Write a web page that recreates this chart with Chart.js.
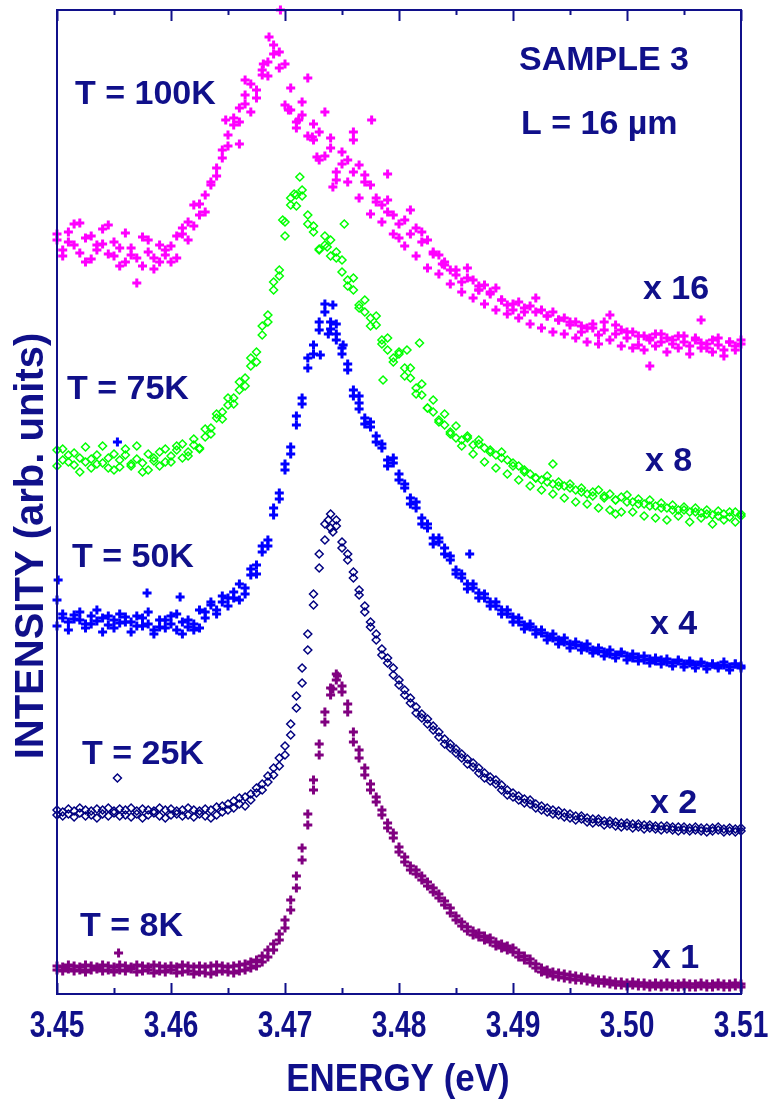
<!DOCTYPE html>
<html>
<head>
<meta charset="utf-8">
<script src="https://cdn.jsdelivr.net/npm/chart.js"></script>
<style>
  html, body { margin: 0; padding: 0; background: #fff; }
  canvas { display: block; }
</style>
</head>
<body>
<canvas id="pl" width="770" height="1101"></canvas>
<script>
// photon energy (eV), shared by all five spectra
const energies = [
  3.4500,3.4505,3.4510,3.4515,3.4520,3.4525,3.4530,3.4535,3.4540,3.4545,
  3.4550,3.4555,3.4560,3.4565,3.4570,3.4575,3.4580,3.4585,3.4590,3.4595,
  3.4600,3.4605,3.4610,3.4615,3.4620,3.4625,3.4630,3.4635,3.4640,3.4645,
  3.4650,3.4655,3.4660,3.4665,3.4670,3.4675,3.4680,3.4685,3.4690,3.4695,
  3.4700,3.4705,3.4710,3.4715,3.4720,3.4725,3.4730,3.4735,3.4740,3.4745,
  3.4750,3.4755,3.4760,3.4765,3.4770,3.4775,3.4780,3.4785,3.4790,3.4795,
  3.4800,3.4805,3.4810,3.4815,3.4820,3.4825,3.4830,3.4835,3.4840,3.4845,
  3.4850,3.4855,3.4860,3.4865,3.4870,3.4875,3.4880,3.4885,3.4890,3.4895,
  3.4900,3.4905,3.4910,3.4915,3.4920,3.4925,3.4930,3.4935,3.4940,3.4945,
  3.4950,3.4955,3.4960,3.4965,3.4970,3.4975,3.4980,3.4985,3.4990,3.4995,
  3.5000,3.5005,3.5010,3.5015,3.5020,3.5025,3.5030,3.5035,3.5040,3.5045,
  3.5050,3.5055,3.5060,3.5065,3.5070,3.5075,3.5080,3.5085,3.5090,3.5095,
  3.5100
];

// intensity (arb. units, curves offset and multiplied as in the figure)
const t8K = [
  24,23,25,23,24,22,24,25,23,24,
  22,24,23,25,22,23,24,21,23,22,
  24,21,22,23,20,22,21,20,22,23,
  22,21,23,24,26,28,32,37,44,54,
  66,84,106,134,169,204,239,272,299,314,
  302,282,252,236,219,204,192,179,166,156,
  142,132,124,120,114,108,102,96,89,81,
  74,68,63,59,57,54,52,48,46,44,
  42,37,34,31,26,22,20,18,17,16,
  15,14,14,13,12,11,11,10,9,9,
  8,9,8,8,7,8,7,8,7,7,
  8,7,7,8,7,7,8,7,7,8,
  7
];
const t8Kb = [
  28,27,29,28,27,29,28,27,29,28,
  27,29,28,27,29,28,27,29,28,27,
  28,27,29,28,27,28,27,28,29,28,
  27,28,29,30,32,34,38,44,50,60,
  74,94,118,146,180,214,250,282,306,320,
  308,290,262,244,226,210,197,184,171,161,
  147,137,128,124,118,112,106,100,93,86,
  78,72,67,63,61,58,56,52,50,48,
  46,41,38,35,30,26,24,22,21,20,
  19,18,17,16,15,14,14,13,12,12,
  11,12,11,11,10,11,10,11,10,10,
  11,10,10,11,10,10,11,10,10,11,
  10
];
const t25K = [
  179,178,180,177,181,178,179,176,180,178,
  181,178,179,177,180,176,179,181,178,176,
  179,180,178,179,177,180,178,176,179,182,
  184,186,190,188,194,201,204,212,219,228,
  239,259,286,311,344,389,426,454,466,474,
  446,434,416,399,382,367,354,339,331,319,
  309,299,291,281,276,270,264,257,250,246,
  241,236,230,227,221,216,213,210,204,199,
  197,194,191,190,186,184,182,180,179,177,
  176,174,175,172,171,172,169,170,168,167,
  168,166,167,165,166,165,164,165,164,163,
  164,163,164,163,162,163,164,162,163,162,
  163
];
const t25Kb = [
  184,182,185,183,186,184,183,185,184,186,
  183,185,184,186,183,185,184,183,186,184,
  185,183,184,186,184,183,185,184,187,188,
  190,193,196,197,200,206,210,218,226,236,
  248,270,298,326,360,400,440,470,480,468,
  452,440,422,404,388,372,360,345,336,326,
  314,304,296,287,280,275,268,262,255,250,
  245,240,235,231,226,221,217,214,209,204,
  201,198,195,194,190,188,186,184,183,181,
  180,178,178,176,175,175,173,173,172,171,
  171,170,170,169,169,168,168,168,167,167,
  167,166,167,166,166,166,167,165,166,165,
  166
];
const t50K = [
  394,376,372,379,374,370,378,373,376,369,
  374,371,377,372,368,376,370,364,367,374,
  370,380,372,367,364,366,382,389,384,392,
  388,396,394,406,419,429,442,454,479,501,
  524,547,569,596,626,649,664,682,672,654,
  646,624,604,591,576,567,558,546,534,531,
  520,506,496,486,476,466,456,452,446,434,
  424,416,410,406,401,396,392,388,384,380,
  377,372,369,367,364,361,358,356,354,352,
  350,349,348,346,344,343,342,340,339,341,
  338,336,337,334,335,333,334,332,331,333,
  330,331,329,332,328,330,328,329,327,330,
  328
];
const t50Kb = [
  368,380,364,375,382,366,370,384,362,378,
  366,380,372,362,378,368,382,360,374,366,
  378,364,360,374,370,384,376,392,380,398,
  396,402,410,400,425,420,448,448,486,495,
  530,540,578,590,636,640,672,690,665,660,
  640,630,598,598,570,572,552,550,528,536,
  514,510,490,492,470,470,450,456,440,438,
  420,420,405,410,396,400,388,392,380,384,
  372,376,365,370,360,364,354,360,350,356,
  346,352,344,350,341,346,338,344,336,342,
  334,340,333,338,331,336,330,335,328,334,
  327,333,326,331,325,330,326,332,324,330,
  326
];
const t75K = [
  544,534,539,529,536,532,526,539,531,536,
  524,534,539,528,535,531,524,536,542,532,
  538,544,536,542,549,546,557,566,576,582,
  589,596,604,616,628,642,659,679,704,724,
  772,789,799,804,779,762,744,749,754,736,
  722,714,704,689,682,676,669,654,644,636,
  642,626,616,606,599,586,582,574,569,562,
  556,554,558,549,554,546,544,539,542,534,
  531,528,524,520,516,514,518,510,512,508,
  510,504,506,500,502,504,498,500,494,497,
  499,492,495,490,494,488,491,486,489,484,
  487,482,486,481,484,479,483,480,477,482,
  480
];
const t75Kb = [
  528,545,532,541,522,547,535,530,548,526,
  540,527,545,530,548,522,540,533,528,545,
  532,548,550,538,555,545,565,560,580,575,
  596,590,612,608,636,632,668,672,712,718,
  758,796,788,798,770,768,745,758,738,742,
  734,708,716,686,694,668,678,650,656,632,
  640,618,626,600,610,586,594,572,580,560,
  568,548,556,540,550,532,542,526,536,520,
  528,514,522,508,516,504,512,500,508,496,
  506,492,502,490,498,486,496,484,494,482,
  492,482,490,478,488,476,486,474,484,478,
  484,472,482,476,480,470,478,474,482,472,
  478
];
const t100K = [
  754,744,762,749,771,732,758,744,750,769,
  738,746,732,739,711,728,754,736,732,744,
  732,758,766,754,789,779,799,809,826,844,
  859,869,886,899,882,904,919,932,949,926,
  889,884,866,879,916,854,834,882,846,814,
  842,834,862,829,819,809,796,789,794,779,
  756,774,784,766,762,754,742,739,729,724,
  719,712,726,714,704,709,702,706,694,689,
  684,692,682,688,696,684,678,682,674,676,
  669,672,662,666,670,659,672,679,669,664,
  656,662,649,658,654,660,652,656,650,658,
  652,648,656,651,646,654,649,644,652,648,
  650
];
const t100Kb = [
  760,738,752,770,741,756,735,749,765,740,
  752,728,761,746,736,757,742,725,749,739,
  748,736,760,772,768,790,782,812,818,836,
  848,876,872,890,910,896,924,918,940,942,
  930,906,872,892,858,870,862,838,856,822,
  830,812,822,796,812,780,792,772,782,760,
  770,748,760,738,752,726,740,720,732,710,
  724,702,716,696,708,690,700,684,694,680,
  690,676,686,670,682,666,678,662,674,660,
  672,656,668,652,666,650,664,654,660,648,
  662,646,658,644,656,648,660,642,654,646,
  658,640,654,646,650,642,656,638,652,644,
  654
];

// scattered extra points [energy, intensity]
const t8KExtra = [[3.4554, 41], [3.4746, 318], [3.4742, 305]];
const t25KExtra = [[3.4553, 216], [3.4738, 474], [3.4742, 462]];
const t50KExtra = [[3.4501, 414], [3.4579, 401], [3.4608, 397], [3.4742, 689], [3.4751, 649],
  [3.4731, 639], [3.4553, 552], [3.4745, 670], [3.4738, 660], [3.4765, 585], [3.4862, 440]];
const t75KExtra = [[3.4713, 817], [3.4737, 747], [3.4698, 774], [3.4807, 644], [3.4818, 651],
  [3.4786, 614], [3.4752, 770], [3.4708, 800], [3.4935, 530], [3.4990, 480]];
const t100KExtra = [[3.4696, 984], [3.4686, 957], [3.4681, 930], [3.4665, 914], [3.4703, 884],
  [3.4712, 874], [3.4724, 857], [3.4728, 837], [3.4742, 807], [3.4760, 854], [3.4776, 874],
  [3.4790, 820], [3.4648, 874], [3.4660, 850], [3.4838, 730], [3.4870, 704], [3.5065, 674],
  [3.5020, 628]];

const majorTicks = [3.45, 3.46, 3.47, 3.48, 3.49, 3.50, 3.51];
const tickLabels = ["3.45", "3.46", "3.47", "3.48", "3.49", "3.50", "3.51"];
const minorTicks = [3.455, 3.465, 3.475, 3.485, 3.495, 3.505];

const navy = "#10108a";
const boldFont = "'Liberation Sans', Arial, sans-serif";

function pts(vals, extra) {
  let out = energies.map((e, i) => ({ x: e, y: vals[i] }));
  return out.concat(extra.map(p => ({ x: p[0], y: p[1] })));
}

// text inside the plot: [text, left px, middle px]
const notes = [
  ["T = 100K", 75, 95], ["T = 75K", 67, 390], ["T = 50K", 72, 558],
  ["T = 25K", 82, 755], ["T = 8K", 80, 927],
  ["SAMPLE 3", 519, 61], ["L = 16 \u00b5m", 521, 125],
  ["x 16", 643, 290], ["x 8", 645, 462], ["x 4", 650, 625],
  ["x 2", 650, 804], ["x 1", 652, 959]
];

// condensed text: squeeze horizontally around its centre
function narrowText(ctx, txt, cx, cy, sx) {
  ctx.save();
  ctx.translate(cx, cy);
  ctx.scale(sx, 1);
  ctx.fillText(txt, 0, 0);
  ctx.restore();
}

const frame = {
  id: "frame",
  afterDatasetsDraw(chart) {
    const ctx = chart.ctx;
    const a = chart.chartArea;
    const x = chart.scales.x;
    ctx.save();
    ctx.strokeStyle = navy;
    ctx.lineWidth = 2;
    ctx.strokeRect(a.left, a.top, a.right - a.left, a.bottom - a.top);
    ctx.beginPath();
    majorTicks.forEach(v => {
      let px = Math.round(x.getPixelForValue(v)) + 0.5;
      ctx.moveTo(px, a.bottom); ctx.lineTo(px, a.bottom - 11);
      ctx.moveTo(px, a.top); ctx.lineTo(px, a.top + 11);
    });
    minorTicks.forEach(v => {
      let px = Math.round(x.getPixelForValue(v)) + 0.5;
      ctx.moveTo(px, a.bottom); ctx.lineTo(px, a.bottom - 6);
      ctx.moveTo(px, a.top); ctx.lineTo(px, a.top + 5);
    });
    ctx.stroke();

    ctx.fillStyle = navy;
    ctx.textAlign = "center";
    ctx.textBaseline = "middle";
    ctx.font = "bold 37px " + boldFont;
    majorTicks.forEach((v, i) => {
      narrowText(ctx, tickLabels[i], x.getPixelForValue(v), 1027, 0.76);
    });

    ctx.font = "bold 38px " + boldFont;
    narrowText(ctx, "ENERGY (eV)", 398, 1081, 0.92);

    ctx.save();
    ctx.translate(32, 546);
    ctx.rotate(-Math.PI / 2);
    ctx.font = "bold 40px " + boldFont;
    ctx.fillText("INTENSITY (arb. units)", 0, 0);
    ctx.restore();

    ctx.textAlign = "left";
    ctx.font = "bold 34px " + boldFont;
    notes.forEach(n => ctx.fillText(n[0], n[1], n[2]));
    ctx.restore();
  }
};

const cross = { pointStyle: "cross", radius: 4.5, borderWidth: 3, clip: false };
const diamond = { pointStyle: "rectRot", radius: 4, borderWidth: 1.5, clip: false,
  backgroundColor: "rgba(0,0,0,0)" };

new Chart(document.getElementById("pl").getContext("2d"), {
  type: "scatter",
  data: {
    datasets: [
      Object.assign({ label: "T = 8K", data: pts(t8K, t8KExtra).concat(pts(t8Kb, [])),
        borderColor: "#800080", backgroundColor: "#800080" }, cross),
      Object.assign({ label: "T = 25K", data: pts(t25K, t25KExtra).concat(pts(t25Kb, [])),
        borderColor: "#000080" }, diamond),
      Object.assign({ label: "T = 50K", data: pts(t50K, t50KExtra).concat(pts(t50Kb, [])),
        borderColor: "#0000ff", backgroundColor: "#0000ff" }, cross),
      Object.assign({ label: "T = 75K", data: pts(t75K, t75KExtra).concat(pts(t75Kb, [])),
        borderColor: "#00ff00" }, diamond),
      Object.assign({ label: "T = 100K", data: pts(t100K, t100KExtra).concat(pts(t100Kb, [])),
        borderColor: "#ff00ff", backgroundColor: "#ff00ff" }, cross)
    ]
  },
  options: {
    responsive: false,
    animation: false,
    devicePixelRatio: 1,
    layout: { padding: { left: 57, right: 29, top: 10, bottom: 107 } },
    scales: {
      x: { type: "linear", min: 3.45, max: 3.51, display: false },
      y: { min: 0, max: 984, display: false }
    },
    plugins: { legend: { display: false }, tooltip: { enabled: false } }
  },
  plugins: [frame]
});
</script>
</body>
</html>
